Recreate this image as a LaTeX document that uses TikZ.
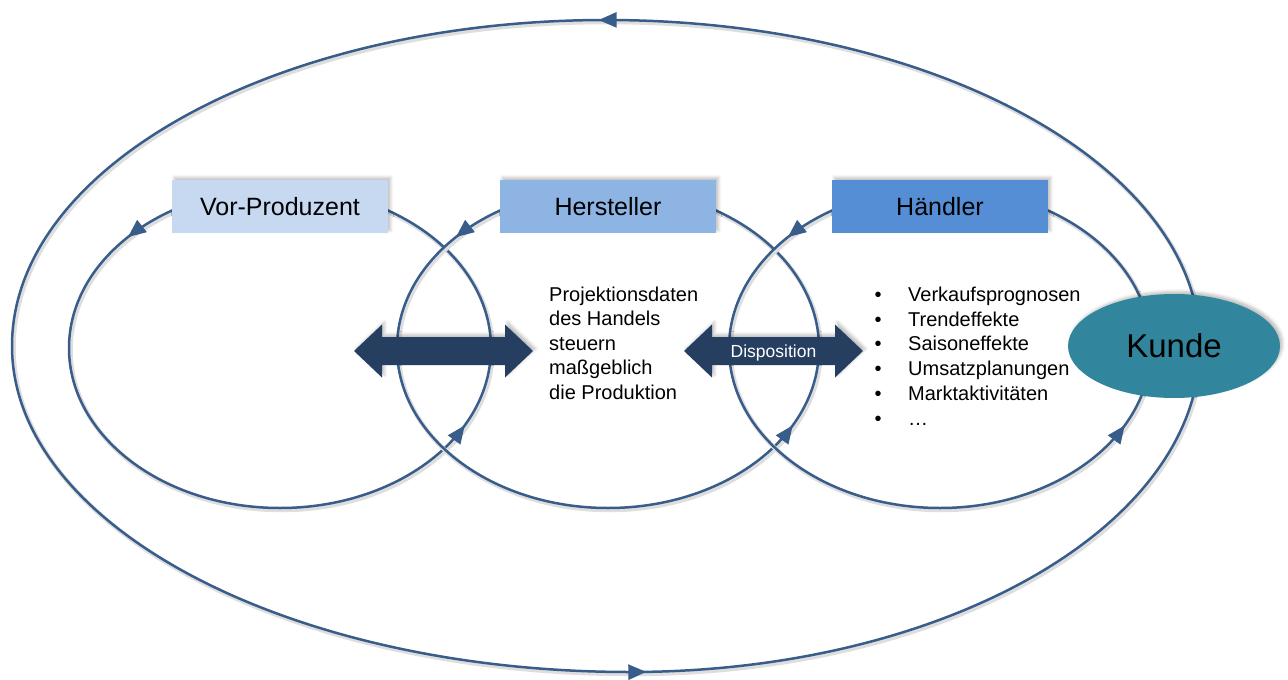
\documentclass[tikz,border=0pt]{standalone}
\usepackage{fontspec}
\setmainfont{Liberation Sans}
\usetikzlibrary{arrows.meta,calc,decorations.markings,shapes.geometric,shadows.blur}

\definecolor{linie}{HTML}{385D8A}
\definecolor{pfeilblau}{HTML}{263F61}
\definecolor{vorblau}{HTML}{C6D9F1}
\definecolor{herblau}{HTML}{8EB4E3}
\definecolor{handblau}{HTML}{558ED5}
\definecolor{kundgruen}{HTML}{31859C}

\tikzset{
  schatten/.style={blur shadow={shadow xshift=2.5pt, shadow yshift=2.5pt,
    shadow blur radius=3pt, shadow opacity=25}},
  kreis/.style={draw=linie, line width=2.5pt,
    preaction={draw=black!13, line width=4.5pt, transform canvas={xshift=1.5pt, yshift=-2pt}}},
  pfeile/.style 2 args={decoration={markings,
    mark=at position #1 with {\arrow{Triangle[length=18pt,width=15pt]}},
    mark=at position #2 with {\arrow{Triangle[length=18pt,width=15pt]}}},
    postaction={decorate}},
  kasten/.style={rectangle, schatten, minimum width=216pt, minimum height=53pt,
    inner sep=0pt, font=\fontsize{25}{30}\selectfont, text height=18pt, text depth=0pt},
  kunde/.style={ellipse, schatten, fill=kundgruen, minimum width=212pt, minimum height=104pt,
    inner sep=0pt, font=\fontsize{33}{40}\selectfont, text height=23.6pt, text depth=0pt},
  fliess/.style={inner sep=0pt, font=\fontsize{20}{24.5}\selectfont}
}

\newcommand{\doppelpfeil}[1]{%
  \fill[pfeilblau, schatten] ($(#1)+(-89.5,0)$) -- ++(28,-26.5) -- ++(0,12.5) -- ++(123,0)
    -- ++(0,-12.5) -- ++(28,26.5) -- ++(-28,26.5) -- ++(0,-12.5) -- ++(-123,0)
    -- ++(0,12.5) -- cycle;}

\begin{document}
\begin{tikzpicture}[x=1pt, y=-1pt]
  \useasboundingbox (0,0) rectangle (1288,680);

  % grosser Kreislauf
  \coordinate (oR) at (1200,346);
  \coordinate (oT) at (606,20);
  \coordinate (oL) at (12,346);
  \coordinate (oB) at (630,672);
  \draw[kreis, pfeile={0.2525}{0.7627}] (oR) .. controls (1200,166) and (934,20) .. (oT)
    .. controls (278,20) and (12,166) .. (oL)
    .. controls (12,526) and (289,672) .. (oB)
    .. controls (945,672) and (1200,526) .. (oR) -- cycle;

  % drei Kreislaeufe
  \foreach \n/\x in {vp/280, hs/608, hd/940} {
    \coordinate (m\n) at (\x,348);
    \draw[kreis, pfeile={0.389}{0.929}] (m\n) ellipse [x radius=211pt, y radius=160pt];
  }

  \node[kasten, fill=vorblau] (vp) at ($(mvp)+(0,-141.5)$) {Vor-Produzent};
  \node[kasten, fill=herblau] (hs) at ($(mhs)+(0,-141.5)$) {Hersteller};
  \node[kasten, fill=handblau] (hd) at ($(mhd)+(0,-141.5)$) {Händler};
  \node[kunde] (kd) at (1174,346) {Kunde};

  % Doppelpfeile
  \coordinate (pl) at (443.5,351);
  \coordinate (pr) at (773.5,351);
  \doppelpfeil{pl}
  \doppelpfeil{pr}
  \node[inner sep=0pt, text=white, font=\fontsize{17.5}{20}\selectfont,
    text height=12.5pt, text depth=0pt] (dispo) at (pr) {Disposition};

  \node[fliess, align=left, anchor=north west] (proj) at (549,286.5)
    {Projektionsdaten\\des Handels\\steuern\\maßgeblich\\die Produktion};

  \foreach \t [count=\i from 0] in {Verkaufsprognosen, Trendeffekte, Saisoneffekte,
      Umsatzplanungen, Marktaktivitäten, …} {
    \node[fliess, anchor=base] (b\i) at (878,301.5+24.7*\i) {•};
    \node[fliess, anchor=base west] (l\i) at (908,301.5+24.7*\i) {\t};
  }
\end{tikzpicture}
\end{document}
